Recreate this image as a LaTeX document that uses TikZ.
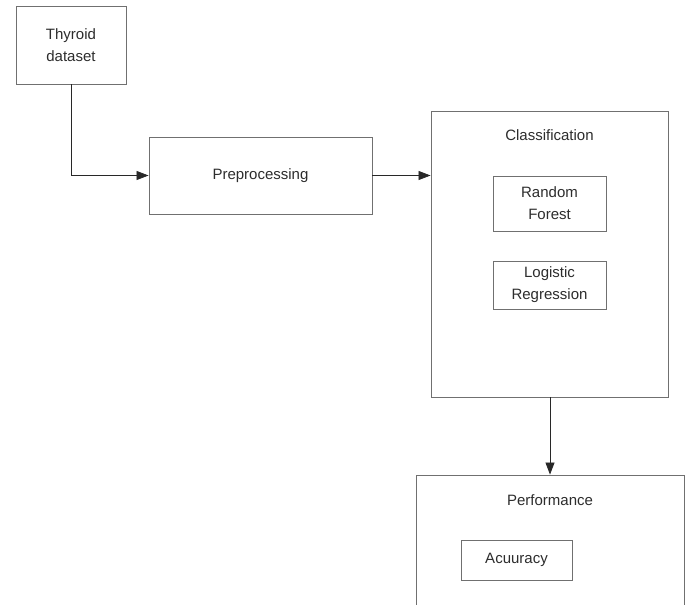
\documentclass[tikz,border=0pt]{standalone}
\usepackage{fontspec}
\setmainfont{Liberation Sans}
\usepackage{tikz}
\usetikzlibrary{arrows.meta, positioning}
\definecolor{boxgray}{RGB}{112,112,112}
\definecolor{linedark}{RGB}{40,40,40}
\definecolor{textdark}{RGB}{45,45,45}
\tikzset{
  stage/.style={rectangle, draw=boxgray, fill=white, align=center,
    font=\fontsize{15}{22}\selectfont, text=textdark,
    inner sep=0pt, line width=0.9pt},
  boxtitle/.style={font=\fontsize{15}{22}\selectfont, text=textdark},
  arrow/.style={-{Triangle[length=12pt, width=9pt]}, line width=0.8pt, color=linedark}
}
\begin{document}
\begin{tikzpicture}[x=1pt, y=-1pt]
  \useasboundingbox (0,0) rectangle (692,604);
  % Input and preprocessing
  \node[stage, minimum width=110pt, minimum height=78pt] (thyroid) at (71,45) {Thyroid\\dataset};
  \node[stage, minimum width=223pt, minimum height=77pt] (prep) at (260.5,175.5) {Preprocessing};
  % Classification block
  \node[stage, minimum width=237pt, minimum height=286pt] (cls) at (549.5,254) {};
  \node[boxtitle] (clstitle) at (549.5,135) {Classification};
  \node[stage, minimum width=113pt, minimum height=55pt] (forest) at (549.5,203.5) {Random\\Forest};
  \node[stage, minimum width=113pt, minimum height=48pt] (logreg) at (549.5,285) {Logistic\\Regression};
  % Performance block
  \node[stage, minimum width=268pt, minimum height=200pt] (perf) at (550,575) {};
  \node[boxtitle] (perftitle) at (550,500) {Performance};
  \node[stage, minimum width=111pt, minimum height=40pt] (acc) at (516.5,560) {Acuuracy};
  % Arrows
  \draw[arrow] (thyroid.south) |- (prep.west);
  \draw[arrow] (prep.east) -- (prep.east -| cls.west);
  \draw[arrow] (perf.north |- cls.south) -- (perf.north);
\end{tikzpicture}
\end{document}
